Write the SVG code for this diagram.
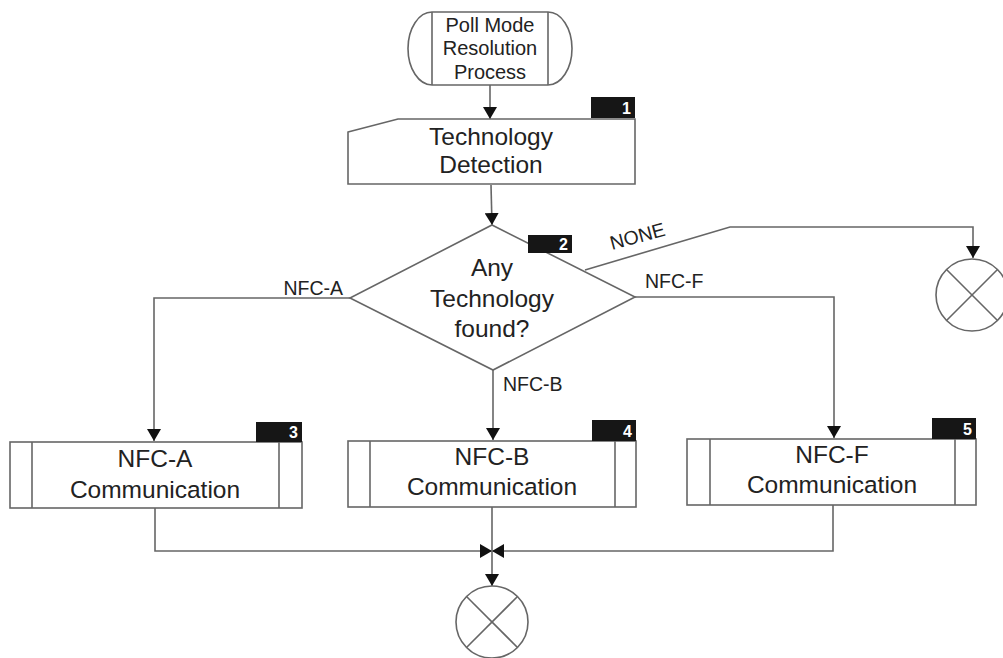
<svg xmlns="http://www.w3.org/2000/svg" width="1003" height="658" viewBox="0 0 1003 658">
<defs>
<style>
.shape{fill:#fff;stroke:#666;stroke-width:1.6}
.line{fill:none;stroke:#666;stroke-width:1.6}
.txt{font-family:"Liberation Sans",Arial,sans-serif;fill:#222;text-anchor:middle}
.big{font-size:24.5px}
.term{font-size:20px}
.lbl{font-family:"Liberation Sans",Arial,sans-serif;fill:#222;font-size:19.5px}
.badge{fill:#161616}
.num{font-family:"Liberation Sans",Arial,sans-serif;fill:#fff;font-size:16px;font-weight:bold;text-anchor:end}
</style>
<marker id="arr" viewBox="0 0 12 14" refX="12" refY="7" markerWidth="12" markerHeight="14" markerUnits="userSpaceOnUse" orient="auto">
<path d="M0,0 L12,7 L0,14 Z" fill="#111"/>
</marker>
</defs>
<rect width="1003" height="658" fill="#fff"/>

<g id="connectors">
<line class="line" x1="490" y1="85" x2="490" y2="119" marker-end="url(#arr)"/>
<line class="line" x1="491" y1="185" x2="492" y2="225" marker-end="url(#arr)"/>
<polyline class="line" points="350,298 154,298 154,441" marker-end="url(#arr)"/>
<line class="line" x1="493" y1="370" x2="493" y2="440" marker-end="url(#arr)"/>
<polyline class="line" points="635,297 834,297 834,438" marker-end="url(#arr)"/>
<polyline class="line" points="585,270 730,227 973,227 973,258" marker-end="url(#arr)"/>
<polyline class="line" points="155,508 155,551 492,551" marker-end="url(#arr)"/>
<polyline class="line" points="833,505 833,551 492,551" marker-end="url(#arr)"/>
<line class="line" x1="492" y1="507" x2="492" y2="586" marker-end="url(#arr)"/>
<text class="lbl" x="343" y="295" text-anchor="end">NFC-A</text>
<text class="lbl" x="503" y="391">NFC-B</text>
<text class="lbl" x="645" y="288">NFC-F</text>
<text class="lbl" x="612" y="250" transform="rotate(-15 612 250)">NONE</text>
</g>

<g id="start">
<path class="shape" d="M432,12 H548 A24,36.5 0 0 1 548,85 H432 A24,36.5 0 0 1 432,12 Z"/>
<line class="line" x1="432" y1="12" x2="432" y2="85"/>
<line class="line" x1="548" y1="12" x2="548" y2="85"/>
<text class="txt term" x="490" y="32">Poll Mode</text>
<text class="txt term" x="490" y="55">Resolution</text>
<text class="txt term" x="490" y="79">Process</text>
</g>

<g id="n1">
<polygon class="shape" points="348,132 398,119 635,119 635,184 348,184"/>
<rect class="badge" x="591" y="97" width="44" height="21"/>
<text class="num" x="631" y="114">1</text>
<text class="txt big" x="491" y="145">Technology</text>
<text class="txt big" x="491" y="173">Detection</text>
</g>

<g id="n2">
<polygon class="shape" points="492,225 635,297 493,370 350,298"/>
<rect class="badge" x="528" y="235" width="44" height="18"/>
<text class="num" x="568" y="250">2</text>
<text class="txt big" x="492" y="276">Any</text>
<text class="txt big" x="492" y="307">Technology</text>
<text class="txt big" x="492" y="337">found?</text>
</g>

<g id="n3">
<rect class="shape" x="10" y="442" width="292" height="66"/>
<line class="line" x1="32" y1="442" x2="32" y2="508"/>
<line class="line" x1="279" y1="442" x2="279" y2="508"/>
<rect class="badge" x="256" y="422" width="46" height="20"/>
<text class="num" x="298" y="438">3</text>
<text class="txt big" x="155" y="467">NFC-A</text>
<text class="txt big" x="155" y="498">Communication</text>
</g>

<g id="n4">
<rect class="shape" x="348" y="441" width="288" height="66"/>
<line class="line" x1="370" y1="441" x2="370" y2="507"/>
<line class="line" x1="615" y1="441" x2="615" y2="507"/>
<rect class="badge" x="592" y="420" width="44" height="21"/>
<text class="num" x="632" y="437">4</text>
<text class="txt big" x="492" y="465">NFC-B</text>
<text class="txt big" x="492" y="495">Communication</text>
</g>

<g id="n5">
<rect class="shape" x="687" y="439" width="289" height="66"/>
<line class="line" x1="710" y1="439" x2="710" y2="505"/>
<line class="line" x1="955" y1="439" x2="955" y2="505"/>
<rect class="badge" x="932" y="418" width="44" height="21"/>
<text class="num" x="972" y="435">5</text>
<text class="txt big" x="832" y="463">NFC-F</text>
<text class="txt big" x="832" y="493">Communication</text>
</g>

<g id="end-none">
<circle class="shape" cx="972" cy="295" r="36"/>
<line class="line" x1="946.5" y1="269.5" x2="997.5" y2="320.5"/>
<line class="line" x1="997.5" y1="269.5" x2="946.5" y2="320.5"/>
</g>

<g id="end">
<circle class="shape" cx="492" cy="622" r="36"/>
<line class="line" x1="466.5" y1="596.5" x2="517.5" y2="647.5"/>
<line class="line" x1="517.5" y1="596.5" x2="466.5" y2="647.5"/>
</g>
</svg>
